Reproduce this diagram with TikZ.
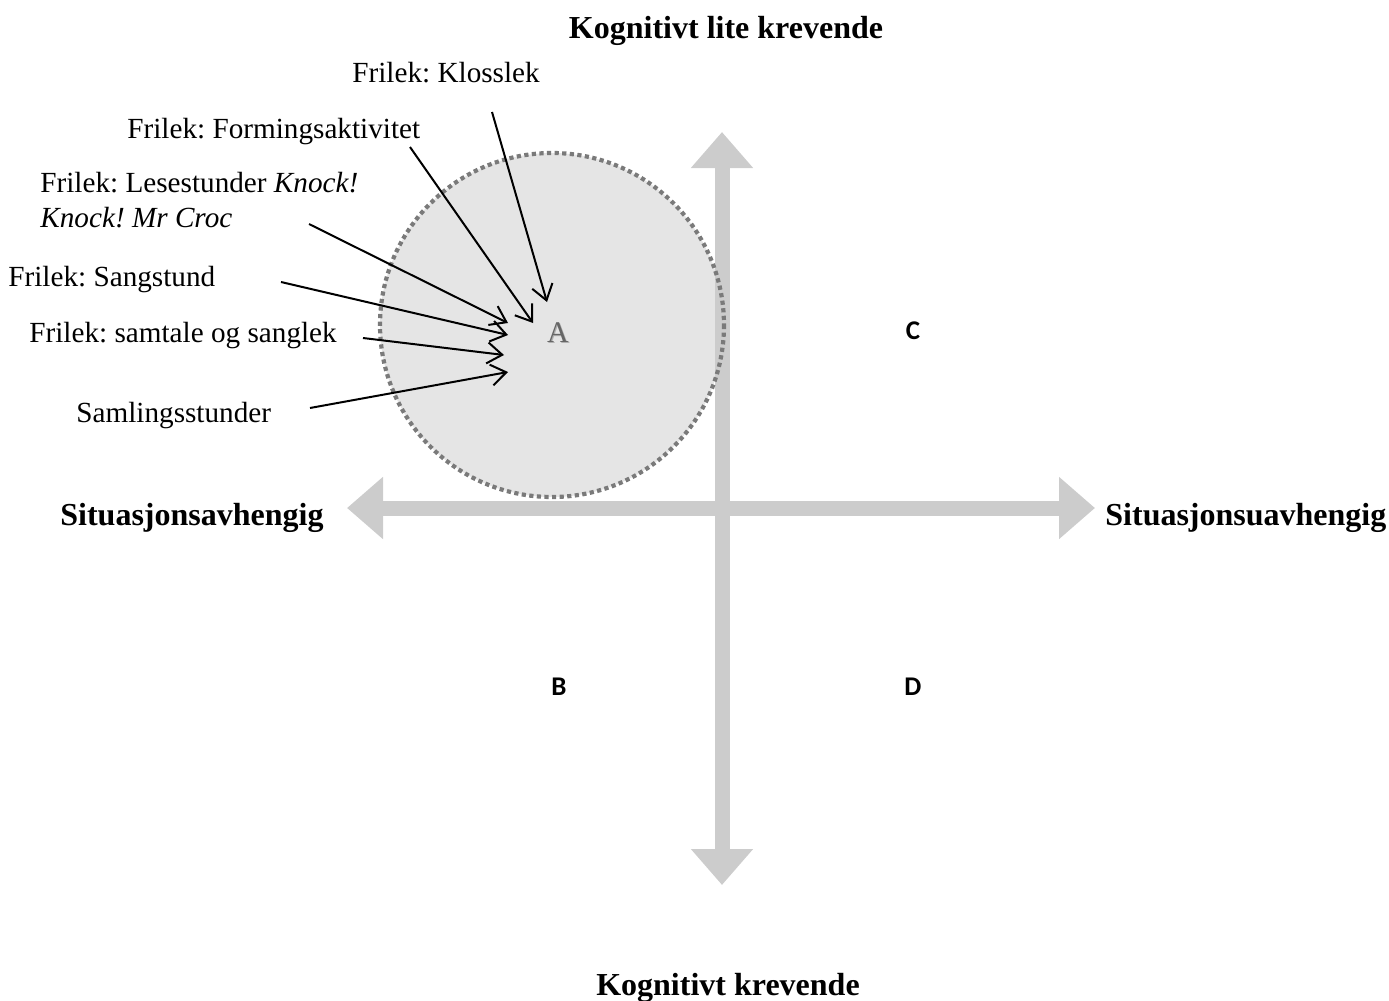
\documentclass[tikz,border=0pt]{standalone}
\usepackage{fontspec}
\setmainfont{Liberation Serif}
\newfontfamily\carl{Carlito}
\usetikzlibrary{arrows.meta}
\definecolor{axisgray}{HTML}{CCCCCC}
\definecolor{fillgray}{HTML}{E5E5E5}
\definecolor{dotgray}{HTML}{7A7A7A}
\definecolor{agray}{HTML}{666666}
\definecolor{ashadow}{HTML}{B0B0B0}
\frenchspacing
\begin{document}
\begin{tikzpicture}[x=0.5pt,y=-0.5pt,
  lbl/.style={font=\fontsize{14.6}{17.5}\selectfont, inner sep=0pt, anchor=base west, align=left},
  ttl/.style={font=\fontsize{16}{19}\selectfont\bfseries, inner sep=0pt, anchor=base},
  quad/.style={font=\carl\bfseries\fontsize{13.5}{15}\selectfont, inner sep=0pt},
  axisline/.style={draw=axisgray, line width=7.5pt,
     {Triangle[length=18pt,width=30pt]}-{Triangle[length=18pt,width=30pt]}},
  ptr/.style={draw=black, line width=1pt, -{Straight Barb[length=7.5pt,width=10.5pt]}}
]
\useasboundingbox (0,0) rectangle (1389,1001);

% circle zone
\fill[fillgray] (552,325) circle[radius=172];

% axes
\coordinate (axL) at (347,508);
\coordinate (axR) at (1095,508);
\coordinate (axT) at (722,132);
\coordinate (axB) at (722,885);
\draw[axisline] (axL) -- (axR);
\draw[axisline] (axT) -- (axB);

\draw[dotgray, line width=2.1pt, dash pattern=on 2.1pt off 1.7pt] (552,325) circle[radius=172];

% titles
\node[ttl] (ttop) at (726,39) {Kognitivt lite krevende};
\node[ttl] (tbot) at (728,995) {Kognitivt krevende};
\node[ttl, anchor=base west] (tleft) at (60,525) {Situasjonsavhengig};
\node[ttl, anchor=base west] (tright) at (1105,525) {Situasjonsuavhengig};

% quadrant letters
\node[font=\fontsize{15}{17}\selectfont, text=ashadow, inner sep=0pt] (qAs) at (559,334) {A};
\node[font=\fontsize{15}{17}\selectfont, text=agray, inner sep=0pt] (qA) at (558,333) {A};
\node[quad] (qC) at (913,331) {C};
\node[quad] (qB) at (559,687) {B};
\node[quad] (qD) at (913,687) {D};

% activity labels
\node[lbl] (l1) at (352,83) {Frilek: Klosslek};
\node[lbl] (l2) at (127,138) {Frilek: Formingsaktivitet};
\node[lbl] (l3) at (40,227) {Frilek: Lesestunder \textit{Knock!}\\\textit{Knock! Mr Croc}};
\node[lbl] (l4) at (8,286) {Frilek: Sangstund};
\node[lbl] (l5) at (29,342) {Frilek: samtale og sanglek};
\node[lbl] (l6) at (76,422) {Samlingsstunder};

% pointer start and end points
\coordinate (s1) at (492,112);  \coordinate (e1) at (547,302);
\coordinate (s2) at (410,147);  \coordinate (e2) at (533,323);
\coordinate (s3) at (309,224);  \coordinate (e3) at (508,323);
\coordinate (s4) at (281,282);  \coordinate (e4) at (508,335);
\coordinate (s5) at (363,338);  \coordinate (e5) at (504,355);
\coordinate (s6) at (310,408);  \coordinate (e6) at (508,372);

\draw[ptr] (s1) -- (e1);
\draw[ptr] (s2) -- (e2);
\draw[ptr] (s3) -- (e3);
\draw[ptr] (s4) -- (e4);
\draw[ptr] (s5) -- (e5);
\draw[ptr] (s6) -- (e6);
\end{tikzpicture}
\end{document}
